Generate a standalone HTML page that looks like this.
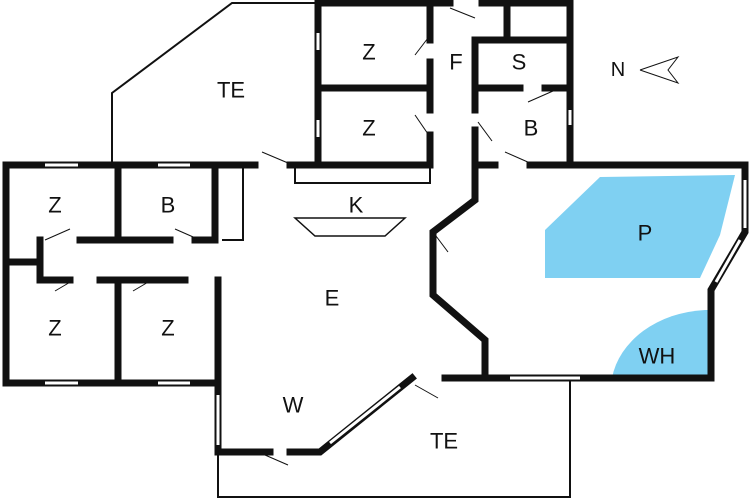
<!DOCTYPE html><html><head><style>body{margin:0;background:#fff}svg{display:block}text{font-family:"Liberation Sans",sans-serif;font-size:22px;fill:#111;text-anchor:middle;dominant-baseline:central}</style></head><body>
<svg width="750" height="500" viewBox="0 0 750 500">
<rect width="750" height="500" fill="#fff"/>
<polygon points="600,177 735,175 720,235 700,278 545,278 545,230" fill="#7fd0f2"/>
<path d="M612,378 A100,80 0 0 1 705,310 L711,310 L711,378 Z" fill="#7fd0f2"/>
<g fill="none" stroke="#111" stroke-width="2">
<polyline points="315,3 232,3 112,93 112,163"/>
<polyline points="295,168 295,183 430,183 430,168"/>
<polyline points="243,168 243,240 222,240"/>
<polyline points="218,455 218,497 570,497 570,381"/>
<polygon points="295,218 405,218 385,236 315,236" stroke-width="1.5"/>
<polyline points="640,70 678,57 668,70 678,83 640,70" stroke-width="1"/>
</g>
<g fill="none" stroke="#111" stroke-width="7" stroke-linecap="square">
<polyline points="255,165 6,165 6,383 218,383 218,452 270,452"/>
<polyline points="290,165 318,165 318,3 450,3"/>
<polyline points="482,3 570,3 570,165 745,165 745,232 711,290 711,378 445,378"/>
<polyline points="290,452 320,452 412,378"/>
<line x1="318" y1="165" x2="430" y2="165"/>
<line x1="318" y1="88" x2="430" y2="88"/>
<polyline points="430,3 430,40"/><polyline points="430,62 430,110"/><polyline points="430,135 430,165"/>
<polyline points="475,165 475,200 433,232 433,295 485,340 485,378"/>
<polyline points="475,40 475,110"/><polyline points="475,130 475,165"/>
<line x1="475" y1="40" x2="570" y2="40"/>
<polyline points="475,88 520,88"/><polyline points="545,88 570,88"/>
<line x1="507" y1="3" x2="507" y2="40"/>
<polyline points="475,165 495,165"/><polyline points="530,165 570,165"/>
<line x1="118" y1="165" x2="118" y2="240"/>
<line x1="215" y1="165" x2="215" y2="240"/>
<polyline points="80,240 170,240"/><polyline points="195,240 215,240"/>
<polyline points="6,262 40,262 40,280 70,280"/><polyline points="100,280 185,280"/>
<line x1="40" y1="240" x2="40" y2="262"/>
<line x1="118" y1="280" x2="118" y2="383"/>
<line x1="218" y1="280" x2="218" y2="383"/>
</g>
<g stroke="#fff" stroke-width="3">
<line x1="45" y1="165" x2="78" y2="165"/><line x1="158" y1="165" x2="190" y2="165"/>
<line x1="45" y1="383" x2="78" y2="383"/><line x1="158" y1="383" x2="190" y2="383"/>
<line x1="318" y1="33" x2="318" y2="50"/><line x1="318" y1="120" x2="318" y2="137"/>
<line x1="570" y1="110" x2="570" y2="125"/>
<line x1="745" y1="180" x2="745" y2="228"/>
<line x1="740" y1="240" x2="716" y2="282"/>
<line x1="218" y1="395" x2="218" y2="445"/>
<line x1="330" y1="443" x2="400" y2="387"/>
<line x1="510" y1="378" x2="580" y2="378"/>
</g>
<g stroke="#111" stroke-width="1">
<line x1="262" y1="152" x2="288" y2="163"/><line x1="45" y1="240" x2="70" y2="229"/><line x1="175" y1="229" x2="200" y2="240"/>
<line x1="55" y1="291" x2="72" y2="281"/><line x1="133" y1="291" x2="150" y2="281"/>
<line x1="415" y1="55" x2="428" y2="38"/><line x1="415" y1="115" x2="428" y2="134"/>
<line x1="450" y1="8" x2="475" y2="18"/><line x1="528" y1="102" x2="553" y2="91"/>
<line x1="478" y1="122" x2="492" y2="141"/><line x1="505" y1="152" x2="530" y2="163"/>
<line x1="436" y1="236" x2="448" y2="252"/><line x1="415" y1="385" x2="438" y2="398"/>
<line x1="265" y1="455" x2="288" y2="465"/>
</g>
<text x="231" y="90">TE</text><text x="369" y="52">Z</text><text x="369" y="128">Z</text>
<text x="456" y="62">F</text><text x="519" y="62">S</text><text x="531" y="128">B</text>
<text x="55" y="205">Z</text><text x="168" y="205">B</text><text x="356" y="205">K</text>
<text x="645" y="233">P</text><text x="332" y="298">E</text><text x="55" y="328">Z</text>
<text x="168" y="328">Z</text><text x="657" y="356">WH</text><text x="293" y="405">W</text>
<text x="444" y="441">TE</text><text x="618" y="70" style="font-size:20px">N</text>
</svg></body></html>
